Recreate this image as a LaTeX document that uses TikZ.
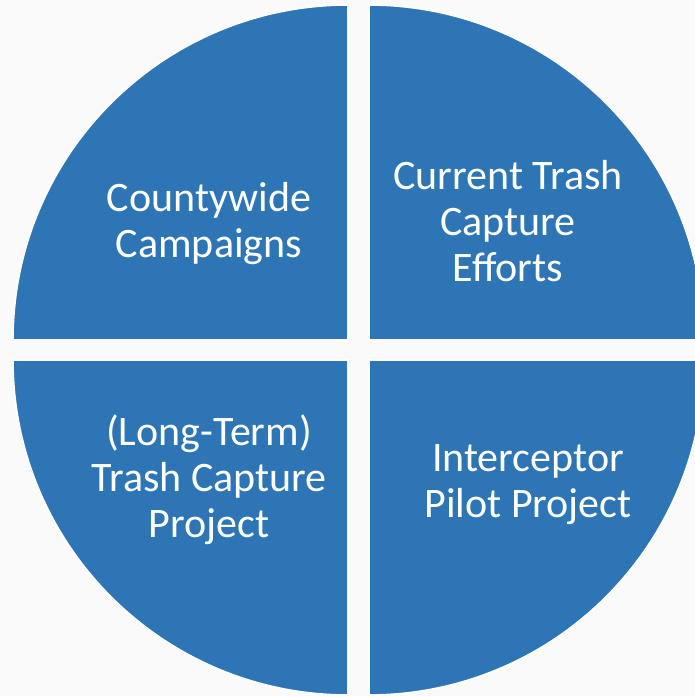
\documentclass[tikz,border=0pt]{standalone}
\usepackage{fontspec}
\setmainfont{Carlito}
\definecolor{bg}{HTML}{FAFAFA}
\definecolor{piece}{HTML}{2E75B6}
\begin{document}
\begin{tikzpicture}[x=1pt,y=1pt,
  quad/.style={fill=piece,draw=white,line width=1.6pt},
  lbl/.style={text=white,align=center,font=\fontsize{42}{46}\selectfont,inner sep=0pt}]
\useasboundingbox (0,0) rectangle (695,696);
\fill[bg] (0,0) rectangle (695,696);
\clip (0,0) rectangle (695,696);
% top-left
\draw[quad] (348,356) -- ++(-335,0) arc[start angle=180,end angle=90,radius=335] -- cycle;
% top-right
\draw[quad] (369,356) -- ++(0,335) arc[start angle=90,end angle=0,radius=335] -- cycle;
% bottom-left
\draw[quad] (348,336) -- ++(0,-335) arc[start angle=270,end angle=180,radius=335] -- cycle;
% bottom-right
\draw[quad] (369,336) -- ++(335,0) arc[start angle=0,end angle=-90,radius=335] -- cycle;
\node[lbl] (tl) at (209,472) {Countywide\\Campaigns};
\node[lbl] (tr) at (508,475) {Current Trash\\Capture\\Efforts};
\node[lbl] (bl) at (209,216) {(Long-Term)\\Trash Capture\\Project};
\node[lbl] (br) at (528,211) {Interceptor\\Pilot Project};
\end{tikzpicture}
\end{document}
